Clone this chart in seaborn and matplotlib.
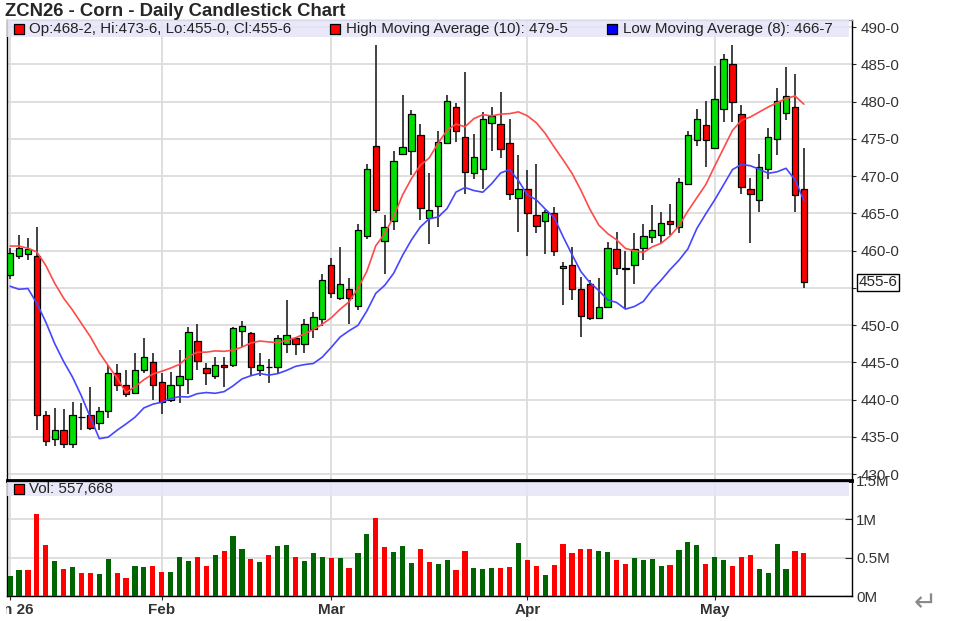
import numpy as np
import pandas as pd
import seaborn as sns
import matplotlib.pyplot as plt
from matplotlib.patches import Rectangle
from matplotlib.ticker import FixedLocator, FuncFormatter
from matplotlib.transforms import Bbox, TransformedBbox

# daily OHLC (Jan 7 .. May 15, 2026)
opens = [456.7, 459.3, 459.6, 459.2, 437.9, 434.7, 435.9, 434.0, 437.6, 437.9,
         436.9, 438.4, 443.5, 441.9, 440.9, 444.0, 445.1, 442.4, 439.9, 441.9,
         442.8, 447.9, 444.2, 443.2, 444.6, 444.7, 449.2, 448.9, 444.0, 444.3,
         444.3, 447.5, 448.2, 447.5, 449.5, 450.8, 458.0, 453.6, 454.9, 452.5,
         462.0, 474.0, 461.3, 464.0, 472.9, 473.3, 475.5, 464.3, 466.0, 474.4,
         479.2, 475.3, 470.4, 470.9, 477.1, 477.0, 474.4, 467.0, 468.3, 464.8,
         464.0, 465.1, 457.7, 458.0, 454.8, 455.5, 450.9, 452.4, 460.2, 457.5,
         458.1, 460.4, 461.8, 462.1, 464.0, 463.1, 468.9, 474.9, 476.8, 473.7,
         479.0, 485.0, 478.3, 468.3, 466.8, 471.0, 475.0, 478.4, 479.3, 468.25]
highs = [460.3, 462.1, 461.7, 463.2, 438.5, 438.9, 438.7, 439.7, 439.5, 441.7,
         439.0, 444.6, 444.8, 444.0, 446.3, 448.3, 446.3, 443.5, 443.7, 446.7,
         449.7, 450.2, 444.9, 445.7, 445.7, 449.8, 450.5, 449.0, 446.3, 445.5,
         448.7, 453.3, 448.4, 450.8, 451.7, 456.9, 459.0, 460.5, 456.3, 463.6,
         471.6, 487.6, 464.8, 473.3, 480.9, 478.9, 477.0, 470.4, 476.1, 480.9,
         479.8, 484.0, 475.7, 478.6, 479.3, 481.3, 477.6, 472.8, 470.8, 471.6,
         465.5, 465.8, 458.5, 460.5, 456.5, 456.0, 456.3, 461.2, 462.5, 460.0,
         462.3, 463.6, 466.1, 465.2, 466.3, 469.7, 476.1, 479.0, 480.1, 484.8,
         486.4, 487.6, 479.5, 469.7, 473.0, 476.4, 481.8, 484.6, 483.7, 473.75]
lows = [456.2, 458.8, 458.7, 435.9, 433.7, 433.7, 433.5, 433.5, 435.9, 435.9,
        435.9, 437.5, 441.2, 440.4, 440.7, 443.5, 439.9, 438.1, 439.7, 439.6,
        440.8, 444.0, 441.9, 442.7, 441.7, 444.3, 447.1, 443.1, 443.2, 442.2,
        443.5, 446.2, 446.0, 446.2, 448.3, 449.9, 453.6, 453.4, 450.2, 452.0,
        461.5, 465.1, 456.9, 462.8, 472.8, 470.1, 464.1, 460.9, 463.2, 474.4,
        474.5, 467.6, 469.6, 468.3, 473.3, 472.4, 466.8, 462.5, 459.3, 462.3,
        459.6, 459.3, 452.7, 453.3, 448.4, 450.7, 450.8, 452.3, 456.7, 452.2,
        455.5, 458.7, 461.0, 461.0, 462.1, 462.4, 468.9, 474.0, 471.2, 473.7,
        477.3, 477.3, 467.6, 461.0, 465.2, 469.6, 472.8, 477.5, 465.2, 455.0]
closes = [459.7, 460.4, 460.2, 437.9, 434.4, 435.9, 434.0, 437.9, 437.6, 436.2,
          438.4, 443.6, 441.9, 440.7, 443.9, 445.7, 441.9, 439.7, 441.9, 443.2,
          449.1, 445.2, 443.6, 444.6, 444.3, 449.6, 449.9, 444.3, 444.6, 444.3,
          448.2, 448.7, 447.5, 450.2, 451.1, 456.0, 454.3, 455.5, 453.6, 462.8,
          470.9, 465.5, 463.2, 472.0, 473.9, 478.3, 465.7, 465.4, 474.5, 480.1,
          476.1, 470.5, 472.5, 477.6, 478.0, 473.6, 467.6, 468.2, 465.1, 463.3,
          465.2, 459.9, 457.9, 454.9, 451.2, 450.9, 452.4, 460.4, 457.7, 457.5,
          460.2, 462.0, 462.7, 463.7, 463.6, 469.2, 475.5, 477.7, 474.9, 480.3,
          485.7, 480.0, 468.5, 467.6, 471.2, 475.3, 480.1, 480.8, 467.5, 455.75]
volumes = [260000, 335000, 335000, 1074000, 665000, 457000, 348000, 378000, 304000, 304000,
           291000, 487000, 304000, 230000, 396000, 378000, 396000, 317000, 317000, 513000,
           457000, 513000, 396000, 530000, 587000, 783000, 609000, 487000, 439000, 530000,
           652000, 665000, 513000, 457000, 557000, 513000, 500000, 500000, 370000, 557000,
           813000, 1022000, 639000, 574000, 652000, 424000, 609000, 439000, 422000, 470000,
           335000, 591000, 370000, 352000, 370000, 370000, 383000, 696000, 470000, 396000,
           274000, 409000, 683000, 557000, 617000, 617000, 587000, 574000, 470000, 422000,
           500000, 470000, 487000, 396000, 409000, 604000, 709000, 665000, 422000, 513000,
           470000, 396000, 513000, 530000, 352000, 304000, 683000, 352000, 591000, 557668]
# moving average values before the window fills
high_ma_lead = [460.6, 460.6, 460.3, 459.8, 458.0, 455.6, 453.6, 452.0, 450.2]
low_ma_lead = [455.2, 454.8, 454.9, 452.9, 450.4, 447.5, 445.1]

month_ticks = [0, 17, 36, 58, 79]
month_labels = ['Jan 26', 'Feb', 'Mar', 'Apr', 'May']
price_ticks = list(range(430, 491, 5))
vol_ticks = [0, 500000, 1000000, 1500000]
vol_labels = ['0M', '0.5M', '1M', '1.5M']

df = pd.DataFrame({'o': opens, 'h': highs, 'l': lows, 'c': closes, 'v': volumes})
df['i'] = np.arange(len(df))
hma = df['h'].rolling(10).mean().values
hma[:len(high_ma_lead)] = high_ma_lead
lma = df['l'].rolling(8).mean().values
lma[:len(low_ma_lead)] = low_ma_lead
df['hma'] = hma
df['lma'] = lma
df['vdir'] = np.where(df['c'].diff().fillna(1) >= 0, 'up', 'down')

sns.set_style('white')
plt.rcParams['font.family'] = ['Liberation Sans', 'DejaVu Sans']

W, H = 962, 621
fig = plt.figure(figsize=(W / 100, H / 100), dpi=100)
ax = fig.add_axes([7 / W, 1 - 480 / H, 845 / W, 460 / H])
axv = fig.add_axes([7 / W, 1 - 596 / H, 845 / W, 115 / H])

GRID = '#dcdcdc'
UP, DOWN = '#00e000', '#ff0000'
FS = 10.9
LABEL_COL = '#333333'

# candles
up = df['c'] >= df['o']
ax.vlines(df['i'], df['l'], df['h'], color='#333333', lw=1.3, zorder=3)
body = (df['c'] - df['o']).abs().clip(lower=0.12)
ax.bar(df['i'], body, bottom=df[['o', 'c']].min(axis=1), width=0.72,
       color=np.where(up, UP, DOWN), edgecolor='black', linewidth=0.9, zorder=4)

sns.lineplot(data=df, x='i', y='hma', color='#ff4a4a', lw=1.2, ax=ax, zorder=5)
sns.lineplot(data=df, x='i', y='lma', color='#4646ff', lw=1.2, ax=ax, zorder=5)

ax.set_xlim(-0.35, 94.4)
ax.set_ylim(429.2, 490.94)
ax.set_xlabel('')
ax.set_ylabel('')
ax.yaxis.tick_right()
ax.yaxis.set_major_locator(FixedLocator(price_ticks))
ax.yaxis.set_major_formatter(FuncFormatter(lambda v, p: '' if v == 455 else f'{int(round(v))}-0'))
ax.tick_params(axis='y', direction='out', length=3, width=0.8, pad=3.5, labelsize=FS,
               right=True, labelcolor=LABEL_COL)
ax.set_xticks(month_ticks)
ax.tick_params(axis='x', length=0, labelbottom=False)
ax.grid(True, color=GRID, lw=1.3)
ax.set_axisbelow(True)
for s in ax.spines.values():
    s.set_color('black')
    s.set_linewidth(1)
ax.spines['bottom'].set_linewidth(2)
ax.spines['top'].set_color('#9a9a9a')

# legend band
ax.add_patch(Rectangle((0, 1 - 17 / 460), 0.996, 17 / 460, transform=ax.transAxes,
                       fc='#e4e4f8', ec='none', alpha=0.85, zorder=6))
ly = 1 - 9 / 460
for px, col, txt, tx in [(19, DOWN, 'Op:468-2, Hi:473-6, Lo:455-0, Cl:455-6', 29),
                         (335, DOWN, 'High Moving Average (10): 479-5', 346),
                         (612, '#0000ff', 'Low Moving Average (8): 466-7', 623)]:
    ax.scatter([(px - 7) / 845], [ly], marker='s', s=55, color=col, edgecolor='black',
               linewidth=0.9, transform=ax.transAxes, zorder=7, clip_on=False)
    ax.text((tx - 7) / 845, ly, txt, transform=ax.transAxes, va='center', ha='left',
            fontsize=FS, color='#222222', zorder=7)

ax.annotate('455-6', xy=(1, closes[-1]), xycoords=('axes fraction', 'data'),
            xytext=(4.5, 0), textcoords='offset points', va='center', ha='left', fontsize=FS,
            bbox=dict(boxstyle='square,pad=0.1', fc='white', ec='black', lw=1),
            annotation_clip=False, zorder=8)

# volume
sns.barplot(data=df, x='i', y='v', hue='vdir', palette={'up': '#006400', 'down': '#ff0000'},
            native_scale=True, width=0.58, dodge=False, saturation=1, errorbar=None,
            legend=False, linewidth=0, ax=axv, zorder=3)
axv.set_xlim(-0.35, 94.4)
axv.set_ylim(0, 1500000)
axv.set_xlabel('')
axv.set_ylabel('')
axv.yaxis.tick_right()
axv.set_yticks(vol_ticks)
axv.set_yticklabels(vol_labels)
axv.tick_params(axis='y', direction='in', length=5, width=0.8, pad=3, labelsize=FS,
                right=True, labelcolor=LABEL_COL)
axv.set_xticks(month_ticks)
axv.set_xticklabels(month_labels, fontweight='bold', fontsize=11)
axv.tick_params(axis='x', direction='out', length=3, width=0.8, pad=2, bottom=True,
                labelcolor=LABEL_COL)
axv.grid(True, color=GRID, lw=1.3)
axv.set_axisbelow(True)
for s in axv.spines.values():
    s.set_color('black')
    s.set_linewidth(1)
axv.spines['top'].set_linewidth(2)

# the first month label is cut at the left edge of the plot, as in the source chart
clip = TransformedBbox(Bbox([[6 / W, 0], [1, 1]]), fig.transFigure)
for lab in axv.get_xticklabels():
    lab.set_clip_box(clip)
    lab.set_clip_on(True)

axv.add_patch(Rectangle((0, 1 - 15 / 115), 0.996, 14 / 115, transform=axv.transAxes,
                        fc='#e4e4f8', ec='none', alpha=0.85, zorder=6))
vy = 1 - 8 / 115
axv.scatter([(19 - 7) / 845], [vy], marker='s', s=55, color=DOWN, edgecolor='black',
            linewidth=0.9, transform=axv.transAxes, zorder=7, clip_on=False)
axv.text((29 - 7) / 845, vy, f'Vol: {volumes[-1]:,}', transform=axv.transAxes,
         va='center', ha='left', fontsize=FS, color='#222222', zorder=7)

fig.text(5 / W, 1 - 11 / H, 'ZCN26 - Corn - Daily Candlestick Chart', fontsize=13.3,
         fontweight='bold', va='center', ha='left')
fig.text(925 / W, 1 - 604 / H, '↵', fontsize=20, color='#8a8a8a', ha='center', va='center')

fig.savefig('out.png', dpi=100)
